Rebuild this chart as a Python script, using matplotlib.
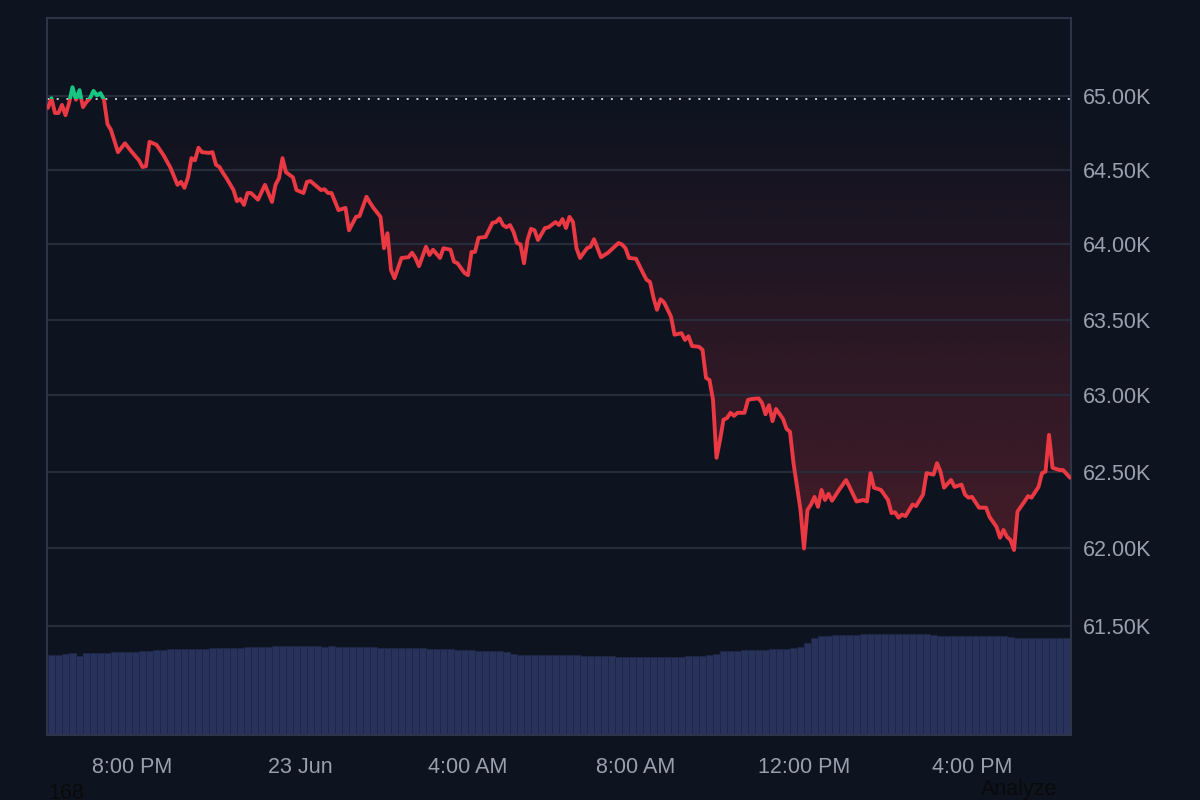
"""BTC 24h price chart (dark theme) with volume bars underneath."""

import matplotlib
matplotlib.use("Agg")
import matplotlib.dates as mdates
import matplotlib.pyplot as plt
import numpy as np
import pandas as pd
from matplotlib.colors import to_rgb
from matplotlib.patches import Rectangle
from matplotlib.ticker import FixedFormatter, FixedLocator, NullFormatter, NullLocator

# ---------------------------------------------------------------------------
# Data
# ---------------------------------------------------------------------------
START = pd.Timestamp("2024-06-22 18:00")

# minutes after START for each price sample
PRICE_MINUTES = [
    0, 5, 10, 15, 20, 25, 30, 35, 40, 45,
    50, 55, 60, 65, 70, 75, 80, 85, 90, 100,
    110, 120, 130, 135, 140, 145, 155, 165, 175, 185,
    190, 195, 200, 205, 210, 215, 220, 230, 235, 240,
    245, 250, 255, 265, 270, 275, 280, 285, 290, 300,
    310, 320, 325, 330, 335, 340, 350, 355, 365, 370,
    375, 385, 390, 395, 400, 405, 415, 425, 430, 440,
    445, 455, 460, 465, 475, 480, 485, 490, 495, 505,
    515, 520, 525, 530, 540, 545, 550, 560, 565, 575,
    580, 585, 595, 600, 605, 610, 615, 625, 635, 640,
    645, 650, 655, 660, 665, 670, 675, 680, 685, 690,
    695, 700, 710, 715, 725, 730, 735, 740, 745, 750,
    755, 760, 770, 775, 780, 790, 800, 815, 820, 825,
    830, 840, 850, 855, 860, 865, 870, 875, 880, 890,
    895, 905, 910, 915, 920, 930, 935, 940, 945, 950,
    955, 960, 965, 970, 975, 980, 985, 995, 1000, 1005,
    1015, 1020, 1025, 1030, 1035, 1040, 1050, 1055, 1060, 1065,
    1075, 1080, 1085, 1090, 1095, 1100, 1105, 1110, 1115, 1120,
    1130, 1140, 1145, 1155, 1165, 1170, 1175, 1180, 1190, 1200,
    1205, 1210, 1215, 1220, 1225, 1235, 1240, 1250, 1255, 1265,
    1270, 1275, 1280, 1290, 1295, 1305, 1310, 1315, 1320, 1330,
    1340, 1345, 1355, 1360, 1365, 1370, 1375, 1380, 1385, 1395,
    1400, 1405, 1415, 1420, 1425, 1430, 1435, 1445, 1450, 1460,
]

PRICE_USD = [
    64920, 64985, 64885, 64885, 64940, 64870, 64950, 65060, 64975, 65040,
    64925, 64960, 64985, 65035, 65005, 65020, 64975, 64810, 64770, 64620,
    64680, 64620, 64565, 64520, 64525, 64690, 64670, 64600, 64515, 64400,
    64420, 64380, 64450, 64580, 64565, 64650, 64620, 64615, 64620, 64535,
    64520, 64480, 64445, 64365, 64290, 64305, 64265, 64345, 64345, 64300,
    64400, 64285, 64400, 64445, 64580, 64485, 64450, 64365, 64345, 64420,
    64425, 64385, 64365, 64370, 64345, 64345, 64230, 64245, 64095, 64185,
    64190, 64320, 64280, 64245, 64185, 63975, 64075, 63830, 63775, 63910,
    63915, 63945, 63910, 63855, 63985, 63930, 63965, 63910, 63975, 63965,
    63885, 63875, 63810, 63795, 63950, 63950, 64045, 64050, 64145, 64150,
    64175, 64130, 64115, 64130, 64085, 64010, 64000, 63875, 64030, 64105,
    64095, 64030, 64110, 64115, 64150, 64130, 64170, 64110, 64185, 64150,
    63975, 63910, 63975, 63985, 64035, 63915, 63945, 64010, 64000, 63975,
    63910, 63905, 63810, 63765, 63750, 63645, 63565, 63635, 63615, 63520,
    63400, 63410, 63365, 63390, 63325, 63320, 63300, 63115, 63100, 62970,
    62590, 62705, 62840, 62850, 62885, 62865, 62885, 62885, 62970, 62975,
    62980, 62950, 62875, 62935, 62830, 62910, 62845, 62780, 62760, 62555,
    62250, 62000, 62250, 62285, 62335, 62270, 62380, 62315, 62355, 62310,
    62380, 62445, 62400, 62305, 62315, 62305, 62490, 62395, 62380, 62315,
    62230, 62235, 62200, 62220, 62210, 62285, 62275, 62350, 62490, 62480,
    62555, 62500, 62395, 62445, 62400, 62415, 62350, 62330, 62335, 62265,
    62265, 62205, 62140, 62070, 62120, 62075, 62055, 61990, 62240, 62305,
    62340, 62330, 62400, 62490, 62500, 62740, 62525, 62510, 62510, 62460,
]

# price at the start of the window (dotted reference line)
BASELINE = 64980

# volume bars, one per 10 minutes starting at START (billion USD)
VOLUME_STEP_MIN = 10
VOLUME_B = [
    16.0, 16.0, 16.2, 16.4, 15.8, 16.4, 16.4, 16.5, 16.5, 16.6,
    16.6, 16.7, 16.7, 16.8, 16.8, 17.0, 17.1, 17.2, 17.2, 17.2,
    17.3, 17.3, 17.3, 17.4, 17.4, 17.4, 17.5, 17.5, 17.6, 17.6,
    17.6, 17.7, 17.8, 17.8, 17.8, 17.8, 17.8, 17.8, 17.8, 17.7,
    17.8, 17.7, 17.7, 17.6, 17.6, 17.6, 17.6, 17.5, 17.5, 17.5,
    17.4, 17.4, 17.4, 17.4, 17.3, 17.3, 17.3, 17.2, 17.1, 17.0,
    17.0, 16.9, 16.9, 16.8, 16.8, 16.6, 16.2, 16.0, 16.0, 16.0,
    16.0, 16.0, 16.0, 16.0, 16.0, 16.0, 15.9, 15.9, 15.9, 15.9,
    15.8, 15.6, 15.6, 15.6, 15.6, 15.6, 15.6, 15.6, 15.6, 15.7,
    15.7, 15.8, 15.8, 15.9, 16.0, 16.3, 16.8, 16.9, 16.9, 17.0,
    17.0, 17.1, 17.1, 17.2, 17.2, 17.3, 17.4, 17.6, 18.4, 19.4,
    19.8, 19.9, 20.0, 20.0, 20.0, 20.1, 20.2, 20.2, 20.2, 20.2,
    20.2, 20.2, 20.2, 20.2, 20.2, 20.2, 20.1, 19.9, 19.9, 19.8,
    19.8, 19.8, 19.8, 19.8, 19.8, 19.8, 19.8, 19.7, 19.5, 19.4,
    19.4, 19.4, 19.5, 19.5, 19.4, 19.5,
]

Y_TICKS = [61500, 62000, 62500, 63000, 63500, 64000, 64500, 65000]
Y_TICK_LABELS = ["61.50K", "62.00K", "62.50K", "63.00K",
                 "63.50K", "64.00K", "64.50K", "65.00K"]
X_TICKS = ["2024-06-22 20:00", "2024-06-23 00:00", "2024-06-23 04:00",
           "2024-06-23 08:00", "2024-06-23 12:00", "2024-06-23 16:00"]
X_TICK_LABELS = ["8:00 PM", "23 Jun", "4:00 AM", "8:00 AM", "12:00 PM", "4:00 PM"]

# ---------------------------------------------------------------------------
# Style
# ---------------------------------------------------------------------------
BG = "#0e1320"
RED = "#ea3943"
GREEN = "#16c784"
GRID = "#272c3a"
SPINE = "#30364a"
LABEL = "#9aa0ae"
VOL_FACE = "#29325a"
VOL_EDGE = "#1f2747"

Y_LIM = (60804, 65532)
X_LIM = (START - pd.Timedelta(minutes=1.4), START + pd.Timedelta(minutes=1461.4))

plt.rcParams["font.family"] = ["Liberation Sans", "DejaVu Sans"]


def main() -> None:
    t = mdates.date2num(START + pd.to_timedelta(PRICE_MINUTES, unit="min"))
    price = np.array(PRICE_USD, dtype=float)
    vol_t = mdates.date2num(
        START + pd.to_timedelta(np.arange(len(VOLUME_B)) * VOLUME_STEP_MIN, unit="min")
    )
    bar_w = VOLUME_STEP_MIN / (24 * 60)

    fig = plt.figure(figsize=(12, 8), dpi=100, facecolor=BG)
    ax = fig.add_axes([47 / 1200, 65 / 800, 1024 / 1200, 717 / 800])
    vol = ax.twinx()

    # volume axis sits behind the price axis
    vol.set_zorder(ax.get_zorder() - 1)
    vol.set_facecolor(BG)
    ax.patch.set_visible(False)
    vol.bar(vol_t, VOLUME_B, width=bar_w, align="edge",
            color=VOL_FACE, edgecolor=VOL_EDGE, linewidth=0.6)
    vol.set_ylim(0, 717 * 0.2)
    vol.yaxis.set_visible(False)

    ax.set_yscale("log")
    ax.set_xlim(mdates.date2num(X_LIM[0]), mdates.date2num(X_LIM[1]))
    ax.set_ylim(*Y_LIM)
    ax.set_autoscale_on(False)

    # gradient fill between the baseline and the line (below baseline only)
    lo, hi = np.log(Y_LIM)
    fb = (np.log(BASELINE) - lo) / (hi - lo)
    grad = np.zeros((256, 1, 4))
    grad[..., :3] = to_rgb(RED)
    grad[:, 0, 3] = np.linspace(0.35, 0.0, 256)
    img = ax.imshow(grad, aspect="auto", origin="lower", extent=(0, 1, 0, fb),
                    transform=ax.transAxes, interpolation="bilinear", zorder=1)
    poly = ax.fill_between(t, np.minimum(price, BASELINE), BASELINE,
                           facecolor="none", edgecolor="none")
    img.set_clip_path(poly.get_paths()[0], transform=ax.transData)

    # dotted start-price line
    ax.axhline(BASELINE, color="#c9cdd6", linestyle=(0, (1, 4)),
               linewidth=1.4, zorder=2)

    # price line: green above the baseline, red below
    x0, x1 = ax.get_xlim()
    for color, y_a, y_b in ((RED, Y_LIM[0], BASELINE), (GREEN, BASELINE, Y_LIM[1])):
        (line,) = ax.plot(t, price, color=color, linewidth=2.8,
                          solid_joinstyle="round", solid_capstyle="round", zorder=3)
        clip = Rectangle((x0, y_a), x1 - x0, y_b - y_a, transform=ax.transData)
        line.set_clip_path(clip)

    # axes cosmetics
    ax.yaxis.tick_right()
    ax.yaxis.set_major_locator(FixedLocator(Y_TICKS))
    ax.yaxis.set_major_formatter(FixedFormatter(Y_TICK_LABELS))
    ax.yaxis.set_minor_locator(NullLocator())
    ax.yaxis.set_minor_formatter(NullFormatter())
    ax.set_xticks(mdates.date2num(pd.to_datetime(X_TICKS)))
    ax.set_xticklabels(X_TICK_LABELS)
    ax.tick_params(axis="y", length=0, pad=8.5, labelsize=15.5, labelcolor=LABEL)
    ax.tick_params(axis="x", length=0, pad=16, labelsize=15.5, labelcolor=LABEL)
    ax.grid(axis="y", color=GRID, linewidth=1.6)
    ax.grid(axis="x", visible=False)
    for a in (ax, vol):
        for s in a.spines.values():
            s.set_color(SPINE)
            s.set_linewidth(1.2)

    # stray labels from the page
    fig.text(48 / 1200, 1 - 783 / 800, "168", color="#0a0a0a",
             fontsize=15.5, va="top", ha="left")
    fig.text(1019 / 1200, 1 - 789 / 800, "Analyze", color="#0a0a0a",
             fontsize=15.5, va="center", ha="center")

    fig.savefig("out.png", dpi=100, facecolor=BG)
    plt.close(fig)


if __name__ == "__main__":
    main()
